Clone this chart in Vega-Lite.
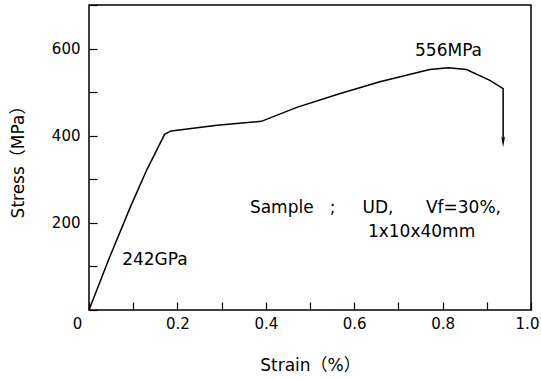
{
  "$schema": "https://vega.github.io/schema/vega-lite/v6.json",
  "width": 442,
  "height": 305,
  "autosize": "none",
  "padding": {"left": 89, "top": 5, "right": 10, "bottom": 64},
  "background": "white",
  "config": {
    "view": {"stroke": "black", "strokeWidth": 1.5},
    "font": "DejaVu Sans"
  },
  "datasets": {
    "curve": [
      {"i": 0, "strain": 0.0, "stress": 0},
      {"i": 1, "strain": 0.047, "stress": 122},
      {"i": 2, "strain": 0.093, "stress": 235},
      {"i": 3, "strain": 0.13, "stress": 320},
      {"i": 4, "strain": 0.171, "stress": 403},
      {"i": 5, "strain": 0.186, "stress": 411},
      {"i": 6, "strain": 0.29, "stress": 424},
      {"i": 7, "strain": 0.39, "stress": 433},
      {"i": 8, "strain": 0.47, "stress": 465},
      {"i": 9, "strain": 0.563, "stress": 495},
      {"i": 10, "strain": 0.658, "stress": 524},
      {"i": 11, "strain": 0.771, "stress": 552},
      {"i": 12, "strain": 0.813, "stress": 556},
      {"i": 13, "strain": 0.854, "stress": 552},
      {"i": 14, "strain": 0.907, "stress": 527},
      {"i": 15, "strain": 0.937, "stress": 508},
      {"i": 16, "strain": 0.937, "stress": 385}
    ],
    "labels": [
      {"strain": 0.7376, "stress": 595, "text": "556MPa"},
      {"strain": 0.075, "stress": 114, "text": "242GPa"},
      {"strain": 0.364, "stress": 234, "text": "Sample\u00a0\u00a0\u00a0;\u00a0\u00a0\u00a0\u00a0\u00a0UD,\u00a0\u00a0\u00a0\u00a0\u00a0\u00a0Vf=30%,"},
      {"strain": 0.631, "stress": 179, "text": "1x10x40mm"}
    ],
    "arrow": [
      {"strain": 0.937, "stress": 386}
    ]
  },
  "layer": [
    {
      "data": {"name": "curve"},
      "mark": {"type": "line", "color": "black", "strokeWidth": 1.5},
      "encoding": {
        "x": {
          "field": "strain", "type": "quantitative",
          "scale": {"domain": [0, 1], "nice": false},
          "axis": {
            "title": "Strain\uff08%\uff09",
            "titleFont": "DejaVu Sans, Noto Sans CJK JP",
            "titleFontSize": 17, "titleFontWeight": "normal", "titlePadding": 26,
            "titleColor": "black",
            "offset": -8,
            "domain": false,
            "values": [0, 0.1, 0.2, 0.3, 0.4, 0.5, 0.6, 0.7, 0.8, 0.9, 1.0],
            "labelExpr": "datum.value == 0 ? '0' : (round(datum.value*10) % 2 == 0 ? format(datum.value, '.1f') : '')",
            "labelFontSize": 15, "labelColor": "black",
            "labelOffset": {"condition": [{"test": "datum.value == 0", "value": -12}, {"test": "datum.value == 1", "value": -4}], "value": 0},
            "labelPadding": 6,
            "tickSize": 8, "tickColor": "black", "tickWidth": 1.2,
            "grid": false, "labelFlush": false, "labelOverlap": false
          }
        },
        "y": {
          "field": "stress", "type": "quantitative",
          "scale": {"domain": [0, 700], "nice": false},
          "axis": {
            "title": "Stress\uff08MPa\uff09",
            "titleFont": "DejaVu Sans, Noto Sans CJK JP",
            "titleFontSize": 17, "titleFontWeight": "normal", "titlePadding": 24,
            "titleColor": "black",
            "offset": -8,
            "domain": false,
            "values": [0, 100, 200, 300, 400, 500, 600, 700],
            "labelExpr": "datum.value % 200 == 0 && datum.value > 0 && datum.value < 700 ? format(datum.value, 'd') : ''",
            "labelFontSize": 15, "labelColor": "black",
            "labelPadding": 9,
            "tickSize": 8, "tickColor": "black", "tickWidth": 1.2,
            "grid": false, "labelOverlap": false
          }
        },
        "order": {"field": "i", "type": "quantitative"}
      }
    },
    {
      "data": {"name": "arrow"},
      "mark": {"type": "point", "shape": "M-0.35,-1L0,1L0.35,-1L0,-0.5Z", "filled": true, "color": "black", "size": 120, "opacity": 1},
      "encoding": {
        "x": {"field": "strain", "type": "quantitative"},
        "y": {"field": "stress", "type": "quantitative"}
      }
    },
    {
      "data": {"name": "labels"},
      "mark": {"type": "text", "fontSize": 17, "color": "black", "baseline": "middle", "align": "left"},
      "encoding": {
        "x": {"field": "strain", "type": "quantitative"},
        "y": {"field": "stress", "type": "quantitative"},
        "text": {"field": "text"}
      }
    }
  ]
}
